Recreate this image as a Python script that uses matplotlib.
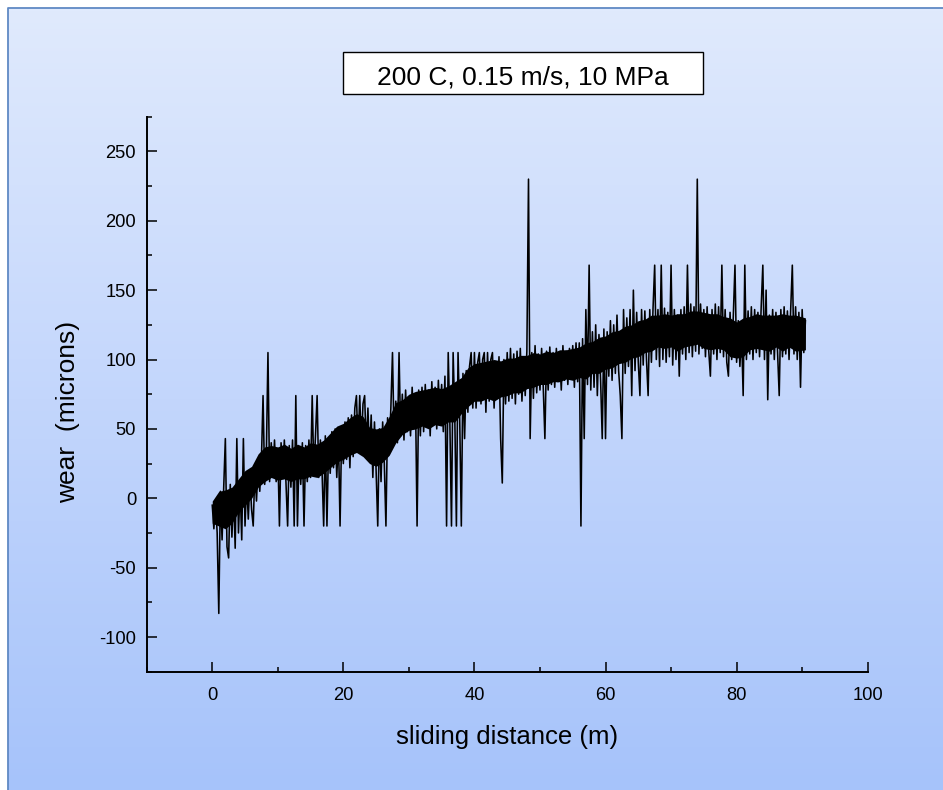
import numpy as np
import matplotlib
matplotlib.use("Agg")
import matplotlib.pyplot as plt
from matplotlib.colors import LinearSegmentedColormap
from matplotlib.patches import Rectangle
from matplotlib.lines import Line2D
from matplotlib.ticker import MultipleLocator

plt.rcParams['font.family'] = ['Liberation Sans', 'DejaVu Sans']
plt.rcParams['axes.unicode_minus'] = False

# ---- data ----
title_text = "200 C, 0.15 m/s, 10 MPa"
x_label = "sliding distance (m)"
y_label = "wear  (microns)"
x_ticks = [0, 20, 40, 60, 80, 100]
y_ticks = [-100, -50, 0, 50, 100, 150, 200, 250]

# raw trace, sliding distance step 0.25 m, wear in microns
wear = [
    -5, -22, -2, -25, -83, 5, -30, 8,
    43, -35, -43, 10, -28, 5, -36, 43,
    -25, 8, -30, 43, -20, 12, -15, 15,
    -8, -20, 20, -2, 25, 5, 27, 74,
    10, 30, 105, 12, 40, 15, 42, 12,
    35, -20, 40, 15, 42, 10, -20, 38,
    8, 42, -20, 74, -20, 35, 10, 40,
    -20, 38, 12, 42, 15, 74, 18, 45,
    74, 15, 42, 20, -20, 45, -20, 40,
    18, 48, 22, 50, 15, 45, -20, 50,
    25, 55, 28, 58, 22, 60, 30, 65,
    74, 35, 74, 38, 68, 74, 35, 65,
    30, 60, 15, 55, 20, -20, 50, 12,
    55, 25, -20, 58, 35, 65, 105, 40,
    70, 40, 105, 45, 75, 42, 78, 48,
    72, 45, 80, 50, 75, -20, 78, 45,
    80, 48, 82, 52, 78, 45, 84, 55,
    80, 50, 85, 55, 82, 48, 88, -20,
    105, 55, -20, 105, 60, -20, 105, 58,
    -20, 90, 43, 92, 62, 95, 105, 65,
    105, 65, 98, 105, 68, 100, 105, 62,
    105, 70, 100, 105, 65, 98, 72, 102,
    43, 11, 100, 68, 105, 70, 108, 72,
    104, 68, 106, 75, 108, 70, 100, 74,
    106, 230, 43, 105, 72, 110, 76, 104,
    78, 108, 80, 43, 106, 78, 109, 82,
    105, 80, 108, 84, 104, 78, 110, 85,
    106, 82, 108, 86, 110, 80, 112, 84,
    112, -20, 115, 43, 136, 82, 168, 78,
    120, 80, 125, 74, 118, 85, 43, 122,
    43, 120, 88, 128, 85, 125, 90, 132,
    92, 74, 43, 136, 90, 130, 95, 136,
    74, 150, 92, 134, 98, 74, 136, 96,
    135, 100, 74, 136, 98, 137, 168, 100,
    136, 95, 168, 100, 137, 98, 134, 102,
    168, 96, 136, 100, 132, 88, 136, 104,
    138, 100, 168, 105, 140, 102, 138, 106,
    230, 104, 140, 108, 136, 102, 138, 106,
    88, 136, 104, 140, 100, 138, 105, 168,
    102, 136, 98, 88, 134, 100, 132, 168,
    98, 128, 95, 120, 74, 168, 100, 135,
    104, 138, 100, 136, 105, 134, 102, 138,
    168, 100, 150, 71, 132, 104, 136, 100,
    134, 105, 74, 136, 102, 138, 104, 135,
    100, 136, 168, 104, 138, 100, 134, 80,
    136, 105, 128,
]
distance = np.arange(len(wear)) * 0.25

# solid-looking middle of the noisy trace, read per 1 m (0 .. 90 m)
core_low = [
    -18, -20, -22, -18, -10, -5, 0, 8, 12, 15,
    13, 14, 12, 14, 14, 16, 15, 18, 22, 26,
    28, 31, 33, 30, 25, 23, 26, 31, 40, 46,
    49, 50, 52, 50, 53, 52, 55, 55, 61, 66,
    70, 70, 72, 70, 73, 74, 76, 76, 79, 80,
    82, 82, 84, 84, 86, 85, 87, 86, 90, 90,
    93, 94, 97, 98, 101, 102, 105, 106, 109, 108,
    109, 106, 109, 110, 111, 108, 107, 108, 107, 102,
    101, 102, 107, 108, 107, 106, 109, 106, 109, 106,
    107,
]
core_high = [
    -2, 5, 6, 8, 14, 20, 23, 32, 37, 38,
    37, 39, 36, 39, 37, 40, 39, 42, 47, 52,
    54, 58, 61, 59, 51, 50, 51, 59, 69, 71,
    75, 77, 78, 79, 80, 79, 81, 84, 87, 94,
    97, 98, 99, 100, 99, 101, 101, 103, 103, 105,
    104, 106, 105, 107, 107, 108, 109, 112, 113, 116,
    117, 120, 121, 124, 125, 128, 129, 132, 132, 133,
    132, 133, 133, 135, 135, 134, 133, 133, 131, 130,
    127, 130, 131, 133, 132, 132, 132, 133, 132, 132,
    130,
]
core_x = np.arange(len(core_low)) * 1.0
core_x[-1] = 90.5

# ---- figure ----
W, H = 943, 790
fig = plt.figure(figsize=(W / 100, H / 100), dpi=100, facecolor='white')

bg = fig.add_axes([8 / W, 0, 1 - 8 / W, 1 - 8 / H], zorder=-10)
cmap = LinearSegmentedColormap.from_list('bg', ['#a6c3fa', '#c3d6fc', '#e0eafd'])
grad = np.linspace(0, 1, 256).reshape(-1, 1)
bg.imshow(grad, aspect='auto', cmap=cmap, origin='lower', extent=[0, 1, 0, 1])
bg.set_axis_off()
fig.add_artist(Line2D([8 / W, 8 / W, 1], [0, 1 - 8 / H, 1 - 8 / H],
                      transform=fig.transFigure, color='#5f89c4', lw=1.3))

ax = fig.add_axes([146.7 / W, 1 - 671.7 / H, 721 / W, 555 / H])
ax.set_facecolor('none')
ax.fill_between(core_x, core_low, core_high, color='black', lw=0)
ax.plot(distance, wear, color='black', lw=1.15)

ax.set_xlim(-10, 100)
ax.set_ylim(-125, 275)
ax.set_xticks(x_ticks)
ax.set_yticks(y_ticks)
ax.xaxis.set_minor_locator(MultipleLocator(10))
ax.yaxis.set_minor_locator(MultipleLocator(25))
for s in ['top', 'right']:
    ax.spines[s].set_visible(False)
for s in ['left', 'bottom']:
    ax.spines[s].set_linewidth(1.4)
ax.tick_params(which='major', direction='in', length=7.2, width=1.1, labelsize=13.2)
ax.tick_params(which='minor', direction='in', length=3.6, width=1.1)
ax.tick_params(axis='x', which='major', pad=11.2)
ax.tick_params(axis='y', which='major', pad=7.7)

ax.set_xlabel(x_label, fontsize=18.5)
ax.xaxis.set_label_coords(0.5, -0.096)
ax.set_ylabel(y_label, fontsize=19)
ax.yaxis.set_label_coords(-0.0925, 0.468)

fig.add_artist(Rectangle((343 / W, 1 - 94 / H), 360 / W, 42 / H, transform=fig.transFigure,
                         facecolor='white', edgecolor='black', lw=1.0))
fig.text(523 / W, 1 - 84.3 / H, title_text, ha='center', va='baseline', fontsize=19)

fig.savefig('out.png', dpi=100, facecolor=fig.get_facecolor())
